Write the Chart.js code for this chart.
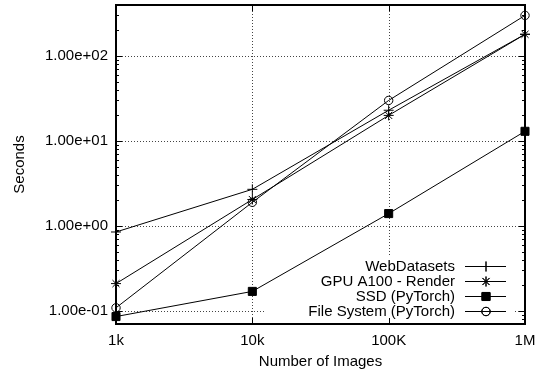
<!DOCTYPE html>
<html>
<head>
<meta charset="utf-8">
<script src="https://cdn.jsdelivr.net/npm/chart.js@4/dist/chart.umd.min.js"></script>
<style>
  html, body { margin: 0; padding: 0; background: #fff; }
  #wrap { width: 538px; height: 373px; position: relative; }
</style>
</head>
<body>
<div id="wrap"><canvas id="c" width="538" height="373"></canvas></div>
<script>
// ---- data ----
const categories = [1000, 10000, 100000, 1000000];
const xTickLabels = ['1k', '10k', '100K', '1M'];
const yTicks = [0.1, 1, 10, 100];
const seriesNames = ['WebDatasets', 'GPU A100 - Render', 'SSD (PyTorch)', 'File System (PyTorch)'];
const webDatasets = [0.85, 2.7, 23, 180];
const gpuA100 = [0.21, 2.05, 20, 180];
const ssd = [0.086, 0.17, 1.4, 13];
const fileSystem = [0.109, 1.9, 30, 300];

const FONT = "'Liberation Sans', Arial, Helvetica, sans-serif";

function fmtExp(v) {
  const s = v.toExponential(2); // e.g. 1.00e+2
  const m = s.match(/^(-?[\d.]+)e([+-])(\d+)$/);
  if (!m) return s;
  return m[1] + 'e' + m[2] + (m[3].length < 2 ? '0' + m[3] : m[3]);
}

function toXY(vals) { return categories.map((x, i) => ({ x: x, y: vals[i] })); }

const styles = [
  { pointStyle: 'cross', radius: 5, fill: 'transparent' },
  { pointStyle: 'star', radius: 5, fill: 'transparent' },
  { pointStyle: 'rect', radius: 5.7, fill: '#000' },
  { pointStyle: 'circle', radius: 4.2, fill: 'transparent' }
];
const allSeries = [webDatasets, gpuA100, ssd, fileSystem];

const datasets = allSeries.map((vals, i) => ({
  label: seriesNames[i],
  data: toXY(vals),
  borderColor: '#000',
  borderWidth: 1,
  backgroundColor: styles[i].fill,
  pointStyle: styles[i].pointStyle,
  pointRadius: styles[i].radius,
  pointHoverRadius: styles[i].radius,
  pointBorderColor: '#000',
  pointBackgroundColor: styles[i].fill,
  pointBorderWidth: 1,
  tension: 0,
  fill: false,
  clip: false
}));

function drawMarker(ctx, style, r, x, y, fill) {
  ctx.save();
  ctx.strokeStyle = '#000';
  ctx.fillStyle = fill;
  ctx.lineWidth = 1;
  if (Chart.helpers && Chart.helpers.drawPoint) {
    Chart.helpers.drawPoint(ctx, { pointStyle: style, radius: r, rotation: 0, borderWidth: 1 }, x, y);
    if (fill !== 'transparent') ctx.fill();
    ctx.stroke();
  }
  ctx.restore();
}

const framePlugin = {
  id: 'frame',
  beforeDatasetsDraw(chart) {
    const { ctx, chartArea: a, scales } = chart;
    ctx.save();
    ctx.strokeStyle = '#444';
    ctx.lineWidth = 1;
    ctx.setLineDash([1, 2]);
    categories.forEach(v => {
      const x = Math.round(scales.x.getPixelForValue(v)) + 0.5;
      ctx.beginPath(); ctx.moveTo(x, a.top); ctx.lineTo(x, a.bottom); ctx.stroke();
    });
    yTicks.forEach(v => {
      const y = Math.round(scales.y.getPixelForValue(v)) + 0.5;
      ctx.beginPath(); ctx.moveTo(a.left, y); ctx.lineTo(a.right, y); ctx.stroke();
    });
    ctx.setLineDash([]);
    // legend background
    ctx.fillStyle = '#fff';
    ctx.fillRect(266, 256, 247, 64);
    ctx.restore();
  },
  afterDatasetsDraw(chart) {
    const { ctx, chartArea: a, scales } = chart;
    ctx.save();
    ctx.strokeStyle = '#000';
    ctx.lineWidth = 1;
    const yMin = scales.y.min, yMax = scales.y.max;
    for (let e = -3; e <= 4; e++) {
      for (let k = 1; k <= 9; k++) {
        const v = k * Math.pow(10, e);
        if (v < yMin || v > yMax) continue;
        const y = Math.round(scales.y.getPixelForValue(v)) + 0.5;
        const len = k === 1 ? 6 : 3;
        ctx.beginPath();
        ctx.moveTo(a.left, y); ctx.lineTo(a.left + len, y);
        ctx.moveTo(a.right, y); ctx.lineTo(a.right - len, y);
        ctx.stroke();
      }
    }
    categories.forEach(v => {
      const x = Math.round(scales.x.getPixelForValue(v)) + 0.5;
      ctx.beginPath();
      ctx.moveTo(x, a.bottom); ctx.lineTo(x, a.bottom - 6);
      ctx.moveTo(x, a.top); ctx.lineTo(x, a.top + 6);
      ctx.stroke();
    });
    // frame
    ctx.lineWidth = 2;
    ctx.strokeRect(Math.round(a.left), Math.round(a.top), Math.round(a.right - a.left), Math.round(a.bottom - a.top));
    // legend
    ctx.font = '15px ' + FONT;
    ctx.fillStyle = '#000';
    ctx.textAlign = 'right';
    ctx.textBaseline = 'middle';
    const rows = [266, 281, 296, 311];
    seriesNames.forEach((name, i) => {
      const y = rows[i];
      ctx.fillText(name, 455, y + 1);
      ctx.lineWidth = 1;
      ctx.beginPath(); ctx.moveTo(465, y + 0.5); ctx.lineTo(506, y + 0.5); ctx.stroke();
      drawMarker(ctx, styles[i].pointStyle, styles[i].radius, 486, y + 0.5, styles[i].fill);
    });
    ctx.restore();
  }
};

new Chart(document.getElementById('c'), {
  type: 'line',
  data: { datasets },
  plugins: [framePlugin],
  options: {
    responsive: false,
    animation: false,
    devicePixelRatio: 1,
    layout: { autoPadding: false, padding: { top: 5, right: 13, left: 0, bottom: 0 } },
    plugins: { legend: { display: false }, tooltip: { enabled: false } },
    scales: {
      x: {
        type: 'logarithmic',
        min: 1000,
        max: 1000000,
        afterFit: s => { s.height = 49; s.paddingLeft = 0; s.paddingRight = 0; },
        afterBuildTicks: s => { s.ticks = categories.map(v => ({ value: v })); },
        grid: { display: false, drawTicks: false },
        border: { display: false },
        ticks: {
          autoSkip: false,
          maxRotation: 0,
          padding: 8,
          color: '#000',
          font: { family: FONT, size: 15 },
          callback: (v) => { const i = categories.indexOf(v); return i >= 0 ? xTickLabels[i] : ''; }
        },
        title: { display: true, text: 'Number of Images', color: '#000', font: { family: FONT, size: 15 }, padding: { top: 0, bottom: 2 } }
      },
      y: {
        type: 'logarithmic',
        min: 0.0703,
        max: 398,
        afterFit: s => { s.width = 116; s.paddingTop = 0; s.paddingBottom = 0; },
        afterBuildTicks: s => { s.ticks = yTicks.map(v => ({ value: v })); },
        grid: { display: false, drawTicks: false },
        border: { display: false },
        ticks: {
          autoSkip: false,
          padding: 8,
          color: '#000',
          font: { family: FONT, size: 15 },
          callback: (v) => fmtExp(v)
        },
        title: { display: true, text: 'Seconds', color: '#000', font: { family: FONT, size: 15 }, padding: { top: 11, bottom: 0 } }
      }
    }
  }
});
</script>
</body>
</html>
